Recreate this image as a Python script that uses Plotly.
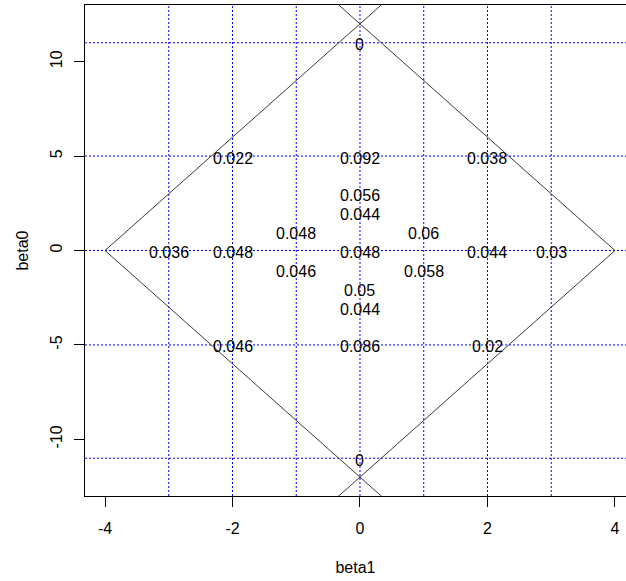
import plotly.graph_objects as go

# Data
label_x = [0, -2, 0, 2, 0, 0, -1, 1, -3, -2, 0, 2, 3, -1, 1, 0, 0, -2, 0, 2, 0]
label_y = [11, 5, 5, 5, 3, 2, 1, 1, 0, 0, 0, 0, 0, -1, -1, -2, -3, -5, -5, -5, -11]
label_text = ["0", "0.022", "0.092", "0.038", "0.056", "0.044", "0.048", "0.06",
              "0.036", "0.048", "0.048", "0.044", "0.03", "0.046", "0.058",
              "0.05", "0.044", "0.046", "0.086", "0.02", "0"]

grid_x = [-3, -2, -1, 0, 1, 2, 3]
grid_y = [-11, -5, 0, 5, 11]

# boundary segments (start vertex -> far end beyond plot)
seg_x = [[-4, 0.5], [4, -0.5], [-4, 0.5], [4, -0.5]]
seg_y = [[0, 13.5], [0, 13.5], [0, -13.5], [0, -13.5]]

x_ticks = [-4, -2, 0, 2, 4]
y_ticks = [-10, -5, 0, 5, 10]

FONT = "Liberation Sans, Arial, sans-serif"

fig = go.Figure()

for gx in grid_x:
    fig.add_shape(type="line", xref="x", yref="paper", x0=gx, x1=gx, y0=0, y1=1,
                  line=dict(color="#0000ff", width=1, dash="2px,2px"), layer="below")
for gy in grid_y:
    fig.add_shape(type="line", xref="paper", yref="y", x0=0, x1=1, y0=gy, y1=gy,
                  line=dict(color="#0000ff", width=1, dash="2px,2px"), layer="below")

for sx, sy in zip(seg_x, seg_y):
    fig.add_trace(go.Scatter(x=sx, y=sy, mode="lines",
                             line=dict(color="#3a3a3a", width=1), showlegend=False,
                             hoverinfo="skip"))

for lx, ly, lt in zip(label_x, label_y, label_text):
    fig.add_annotation(x=lx, y=ly, text=lt, showarrow=False, yshift=-2,
                       xanchor="center", yanchor="middle",
                       font=dict(family=FONT, size=16, color="#000000"))

fig.update_layout(
    width=626, height=581,
    margin=dict(l=85, r=0, t=5, b=85, autoexpand=False),
    plot_bgcolor="white", paper_bgcolor="white",
    font=dict(family=FONT, size=16, color="#000000"),
)
fig.update_xaxes(range=[-4.314, 4.173], showgrid=False, zeroline=False,
                 showline=True, mirror=True, linecolor="#000000", linewidth=1,
                 ticks="outside", ticklen=10, tickcolor="#000000",
                 tickvals=x_ticks, ticktext=[str(v) for v in x_ticks],
                 ticklabelstandoff=8, automargin=False,
                 title=dict(text="beta1", standoff=25, font=dict(size=16)))
fig.update_yaxes(range=[-13.0, 13.0], showgrid=False, zeroline=False,
                 showline=True, mirror=False, linecolor="#000000", linewidth=1,
                 ticks="outside", ticklen=10, tickcolor="#000000",
                 tickvals=y_ticks, ticktext=[str(v) for v in y_ticks],
                 tickangle=-90, ticklabelstandoff=6, automargin=False,
                 title=dict(text="beta0", standoff=14, font=dict(size=16)))

fig.write_html("out.html", post_script="document.body.style.margin='0';",
               config={"displayModeBar": False})
